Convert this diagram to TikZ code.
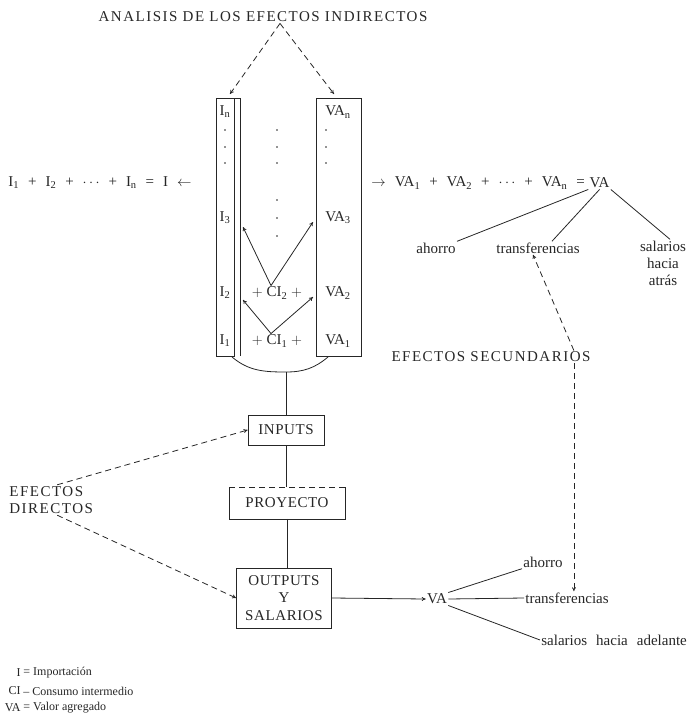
\documentclass[tikz,border=0pt]{standalone}
\usepackage{fontspec}
\setmainfont{Liberation Serif}
\usetikzlibrary{positioning,arrows.meta}

\definecolor{tinta}{gray}{0.15}
\newcommand{\esp}{\hspace{0.6em}}

\tikzset{
  lbl/.style={inner sep=1pt, text=tinta, font=\fontsize{15}{17}\selectfont},
  caps/.style={inner sep=1pt, text=tinta, font=\fontsize{15}{17.5}\selectfont\addfontfeatures{LetterSpace=10}},
  caja/.style={draw=tinta, inner sep=2pt, text=tinta, align=center, font=\fontsize{15}{17.5}\selectfont\addfontfeatures{LetterSpace=4}},
  cajaabierta/.style={inner sep=2pt, text=tinta, align=center, font=\fontsize{15}{17.5}\selectfont\addfontfeatures{LetterSpace=4}},
  leyenda/.style={inner sep=1pt, text=tinta, font=\fontsize{12}{14}\selectfont},
  flecha/.style={-{To[length=4pt,width=4pt]}},
  rayas/.style={dash pattern=on 6pt off 4pt},
}

\begin{document}
\begin{tikzpicture}[x=1pt, y=-1pt, line width=0.8pt, draw=tinta]
\useasboundingbox (0,0) rectangle (694,717);

% efectos indirectos
\node[caps] (titulo) at (263,17) {ANALISIS DE LOS EFECTOS INDIRECTOS};
\coordinate (vertice) at ([xshift=17pt]titulo.south);
\coordinate (topI) at (230,94);
\coordinate (topVA) at (334,94);
\draw[rayas, flecha] (vertice) -- (topI);
\draw[rayas, flecha] (vertice) -- (topVA);

% columnas
\draw (216,98) rectangle (234,356);
\draw (234,98) -- (240,98) -- (240,356);
\draw (316,98) rectangle (361,356);

\node[lbl] (in) at (225,112) {I\textsubscript{n}};
\node[lbl] (i3) at (225,218) {I\textsubscript{3}};
\node[lbl] (i2) at (225,293) {I\textsubscript{2}};
\node[lbl] (i1) at (225,341) {I\textsubscript{1}};
\node[lbl] (ci2) at (277,293) {$+$ CI\textsubscript{2} $+$};
\node[lbl] (ci1) at (277,341) {$+$ CI\textsubscript{1} $+$};
\node[lbl] (van) at (338,112) {VA\textsubscript{n}};
\node[lbl] (va3) at (338,218) {VA\textsubscript{3}};
\node[lbl] (va2) at (338,293) {VA\textsubscript{2}};
\node[lbl] (va1) at (338,341) {VA\textsubscript{1}};

\foreach \y in {130,147,163} {
  \fill[tinta] (225,\y) circle (0.9pt);
  \fill[tinta] (277,\y) circle (0.9pt);
  \fill[tinta] (326,\y) circle (0.9pt);
}
\foreach \y in {200,218,236}
  \fill[tinta] (277,\y) circle (0.9pt);

\coordinate (p3i) at (243,227);
\coordinate (p3va) at (313,222);
\coordinate (p2i) at (243,300);
\coordinate (p2va) at (313,297);
\draw[flecha] ([xshift=-6pt]ci2.north) -- (p3i);
\draw[flecha] ([xshift=-6pt]ci2.north) -- (p3va);
\draw[flecha] ([xshift=-6pt]ci1.north) -- (p2i);
\draw[flecha] ([xshift=-6pt]ci1.north) -- (p2va);

% sumas
\node[lbl, anchor=east] (sumi) at (193,183)
  {I\textsubscript{1}\esp+\esp I\textsubscript{2}\esp+\esp$\cdots$\esp+\esp I\textsubscript{n}\esp=\esp I\esp$\leftarrow$};
\node[lbl, anchor=west] (sumva) at (370,183)
  {$\rightarrow$\esp VA\textsubscript{1}\esp+\esp VA\textsubscript{2}\esp+\esp$\cdots$\esp+\esp VA\textsubscript{n}\esp=};
\node[lbl, right=2pt of sumva] (vaa) {VA};

\node[lbl] (ahorroa) at (436,248) {ahorro};
\node[lbl] (transa) at (538,248) {transferencias};
\node[lbl, align=center] (sala) at (663,263) {salarios\\hacia\\atrás};
\draw (vaa.south west) -- (ahorroa.north east);
\draw (vaa.south) -- ([xshift=14pt]transa.north);
\draw (vaa.south east) -- ([xshift=7pt]sala.north);

% union de columnas
\coordinate (arcoI) at (232,357);
\coordinate (arcoB) at (286,372);
\coordinate (arcoD) at (328,357);
\draw (arcoI) to[out=-40, in=180] (arcoB) to[out=0, in=-140] (arcoD);

% efectos directos
\node[caja, minimum width=76pt, minimum height=30pt] (inputs) at (286,430) {INPUTS};
\node[cajaabierta, minimum width=115pt, minimum height=31pt] (proyecto) at (287,503) {PROYECTO};
\draw (proyecto.north west) -- (proyecto.south west) -- (proyecto.south east) -- (proyecto.north east);
\draw[rayas] (proyecto.north west) -- (proyecto.north east);
\node[caja, minimum width=95pt, minimum height=60pt] (outputs) at (284,598) {OUTPUTS\\Y\\SALARIOS};

\draw (arcoB) -- (inputs.north);
\draw (inputs.south) -- (inputs.south |- proyecto.north);
\draw (proyecto.south) -- (proyecto.south |- outputs.north);

\node[caps, align=left, anchor=west] (efdir) at (8,500) {EFECTOS\\DIRECTOS};
\draw[rayas, flecha] ([xshift=6pt]efdir.north) -- (inputs.west);
\draw[rayas, flecha] ([xshift=6pt]efdir.south) -- (outputs.west);

% efectos secundarios
\node[lbl] (vab) at (437,599) {VA};
\draw[flecha] (outputs.east) -- (vab.west);
\node[lbl, anchor=west] (ahorrob) at (522,562) {ahorro};
\node[lbl, anchor=west] (transb) at (524,598) {transferencias};
\node[lbl, anchor=west] (salb) at (540,640) {salarios\esp hacia\esp adelante};
\draw (vab.north east) -- (ahorrob.south west);
\draw (vab.east) -- (transb.west);
\draw (vab.south east) -- (salb.west);

\node[caps] (efsec) at (491,357) {EFECTOS SECUNDARIOS};
\draw[rayas, flecha] ([xshift=-18pt]efsec.north east) -- ([xshift=-5pt]transa.south);
\draw[rayas, flecha] ([xshift=-18pt]efsec.south east) -- ([xshift=-18pt]efsec.south east |- transb.north);

% leyenda
\node[leyenda, anchor=east] (lgi) at (22,673) {I};
\node[leyenda, anchor=west] (lgit) at (22,673) {= Importación};
\node[leyenda, anchor=east] (lgci) at (22,691) {CI};
\node[leyenda, anchor=west] (lgcit) at (22,691) {-- Consumo intermedio};
\node[leyenda, anchor=east] (lgva) at (22,708) {VA};
\node[leyenda, anchor=west] (lgvat) at (22,708) {= Valor agregado};
\end{tikzpicture}
\end{document}
